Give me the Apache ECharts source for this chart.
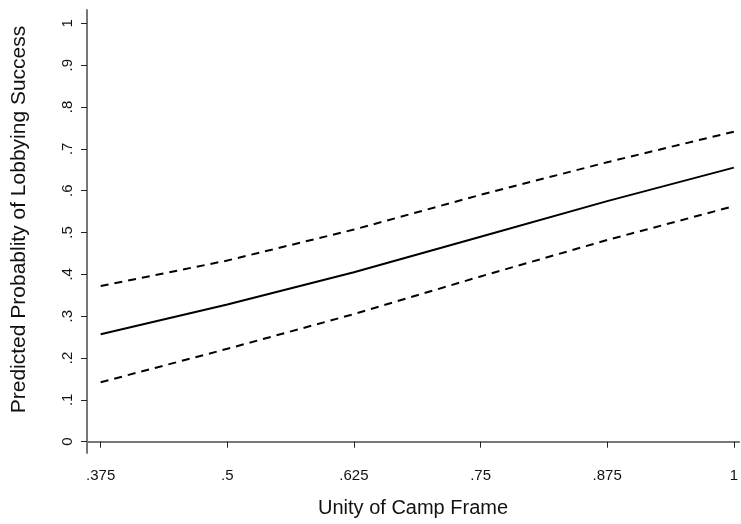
<!DOCTYPE html>
<html>
<head>
<meta charset="utf-8">
<script src="https://cdn.jsdelivr.net/npm/echarts@6/dist/echarts.min.js"></script>
<style>
  html, body { margin: 0; padding: 0; background: #fff; }
  #chart { width: 741px; height: 524px; }
</style>
</head>
<body>
<div id="chart"></div>
<script>
// x positions (unity of camp frame) and predicted probabilities
const unity = [0.375, 0.5, 0.625, 0.75, 0.875, 1];
const predicted = [0.257, 0.328, 0.405, 0.49, 0.575, 0.655];
const upperCI = [0.372, 0.433, 0.507, 0.59, 0.668, 0.741];
const lowerCI = [0.142, 0.222, 0.305, 0.395, 0.482, 0.563];

const xTicks = [0.375, 0.5, 0.625, 0.75, 0.875, 1];
const yTicks = [0, 0.1, 0.2, 0.3, 0.4, 0.5, 0.6, 0.7, 0.8, 0.9, 1];

// stata style labels: ".375", "1", "0"
const stataFmt = v => {
  const s = String(+v.toFixed(3));
  return s.startsWith("0.") ? s.slice(1) : s;
};

const pairs = ys => unity.map((x, i) => [x, ys[i]]);

const chart = echarts.init(document.getElementById("chart"));
const font = "Liberation Sans, Arial, sans-serif";

chart.setOption({
  animation: false,
  grid: { left: 87, right: 0, top: 10, bottom: 71 },
  xAxis: {
    type: "value",
    min: 0.3615,
    max: 1.0052,
    name: "Unity of Camp Frame",
    nameLocation: "middle",
    nameGap: 45,
    nameTextStyle: { fontFamily: font, fontSize: 20, color: "#111" },
    splitLine: { show: false },
    axisLine: { lineStyle: { color: "#777", width: 2 } },
    axisTick: { customValues: xTicks, length: 6, lineStyle: { color: "#222", width: 1 } },
    axisLabel: {
      customValues: xTicks,
      formatter: stataFmt,
      margin: 15,
      fontFamily: font,
      fontSize: 15,
      color: "#111"
    }
  },
  yAxis: {
    type: "value",
    min: -0.027,
    max: 1.0318,
    name: "Predicted Probablity of Lobbying Success",
    nameLocation: "middle",
    nameRotate: 90,
    nameGap: 57,
    nameTextStyle: { fontFamily: font, fontSize: 21, color: "#111", padding: [0, 0, 0, 24] },
    splitLine: { show: false },
    axisLine: { lineStyle: { color: "#777", width: 2 } },
    axisTick: { customValues: yTicks, length: 6, lineStyle: { color: "#222", width: 1 } },
    axisLabel: {
      customValues: yTicks,
      formatter: stataFmt,
      rotate: 90,
      margin: 12,
      fontFamily: font,
      fontSize: 15,
      color: "#111"
    }
  },
  series: [
    {
      type: "line",
      data: pairs(upperCI),
      symbol: "none",
      lineStyle: { color: "#000", width: 2, type: [8, 6] }
    },
    {
      type: "line",
      data: pairs(predicted),
      symbol: "none",
      lineStyle: { color: "#000", width: 2 }
    },
    {
      type: "line",
      data: pairs(lowerCI),
      symbol: "none",
      lineStyle: { color: "#000", width: 2, type: [8, 6] }
    }
  ]
});
</script>
</body>
</html>
